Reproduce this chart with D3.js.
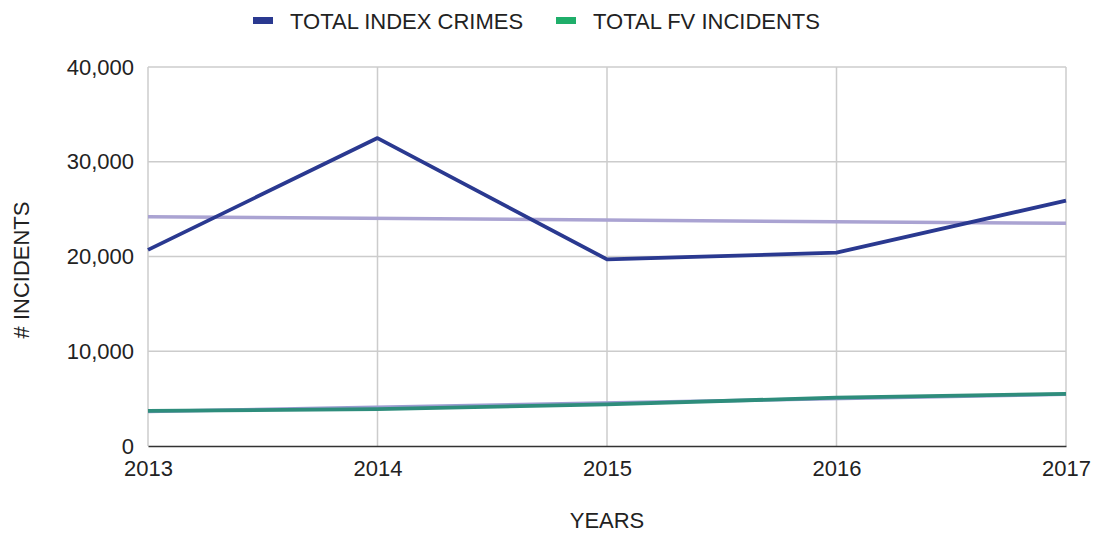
<!DOCTYPE html>
<html><head><meta charset="utf-8">
<script src="https://cdn.jsdelivr.net/npm/d3@7"></script>
<style>body{margin:0;background:#fff;} text{font-family:"Liberation Sans",Arial,sans-serif;fill:#222;}</style>
</head><body><svg id="c" width="1095" height="534"></svg>
<script>
const years = [2013, 2014, 2015, 2016, 2017];
const indexCrimes = [20700, 32500, 19700, 20400, 25900];
const fvIncidents = [3700, 3900, 4400, 5100, 5500];
const indexTrend = [24200, 23500];   // read at 2013 and 2017
const fvTrend = [3650, 5450];        // read at 2013 and 2017
const yTicks = [0, 10000, 20000, 30000, 40000];
const seriesNames = ["TOTAL INDEX CRIMES", "TOTAL FV INCIDENTS"];

const svg = d3.select("#c");
const m = {l:148, r:1066, t:67, b:446};
const x = d3.scalePoint().domain(years).range([m.l, m.r]);
const y = d3.scaleLinear().domain([0, 40000]).range([m.b, m.t]);
const fs = "22px";

// grid
svg.append("g").selectAll("line").data(yTicks.slice(1)).join("line")
  .attr("x1", m.l).attr("x2", m.r).attr("y1", d=>y(d)).attr("y2", d=>y(d))
  .attr("stroke", "#cccccc").attr("stroke-width", 1.5);
svg.append("g").selectAll("line").data(years).join("line")
  .attr("x1", d=>x(d)).attr("x2", d=>x(d)).attr("y1", m.t).attr("y2", m.b)
  .attr("stroke", "#cccccc").attr("stroke-width", 1.5);

// axes
const yAxis = d3.axisLeft(y).tickValues(yTicks).tickFormat(d3.format(",")).tickSize(0).tickPadding(14);
const gy = svg.append("g").attr("transform", `translate(${m.l},0)`).call(yAxis);
gy.select(".domain").remove();
gy.selectAll("text").style("font-size", fs).attr("fill", "#222");

const xAxis = d3.axisBottom(x).tickFormat(d3.format("d")).tickSize(0).tickPadding(14);
const gx = svg.append("g").attr("transform", `translate(0,${m.b})`).call(xAxis);
gx.select(".domain").attr("stroke", "#333").attr("stroke-width", 1.5);
gx.selectAll("text").style("font-size", fs).attr("fill", "#222");

// trendlines
const ends = [years[0], years[years.length-1]];
const line = d3.line().x(d=>x(d[0])).y(d=>y(d[1]));
svg.append("path").datum(ends.map((d,i)=>[d, indexTrend[i]])).attr("d", line)
  .attr("fill","none").attr("stroke","#aaa3d2").attr("stroke-width",3.5);
svg.append("path").datum(ends.map((d,i)=>[d, fvTrend[i]])).attr("d", line)
  .attr("fill","none").attr("stroke","#9a9cd0").attr("stroke-width",3.5);

// series
svg.append("path").datum(years.map((d,i)=>[d, fvIncidents[i]])).attr("d", line)
  .attr("fill","none").attr("stroke","#2e8d7c").attr("stroke-width",3.8).attr("stroke-linejoin","round");
svg.append("path").datum(years.map((d,i)=>[d, indexCrimes[i]])).attr("d", line)
  .attr("fill","none").attr("stroke","#2a3990").attr("stroke-width",3.8).attr("stroke-linejoin","round");

// legend
const legColors = ["#2a3990", "#1fae6a"];
const legX = [253, 556];
seriesNames.forEach((n,i)=>{
  svg.append("rect").attr("x", legX[i]).attr("y", 17).attr("width", 20).attr("height", 7).attr("fill", legColors[i]);
  svg.append("text").attr("x", legX[i]+37).attr("y", 29).text(n).style("font-size",fs);
});

// axis titles
svg.append("text").attr("x", 607).attr("y", 528).attr("text-anchor","middle").text("YEARS").style("font-size",fs);
svg.append("text").attr("transform","translate(29,270) rotate(-90)").attr("text-anchor","middle").text("# INCIDENTS").style("font-size",fs);
</script></body></html>
